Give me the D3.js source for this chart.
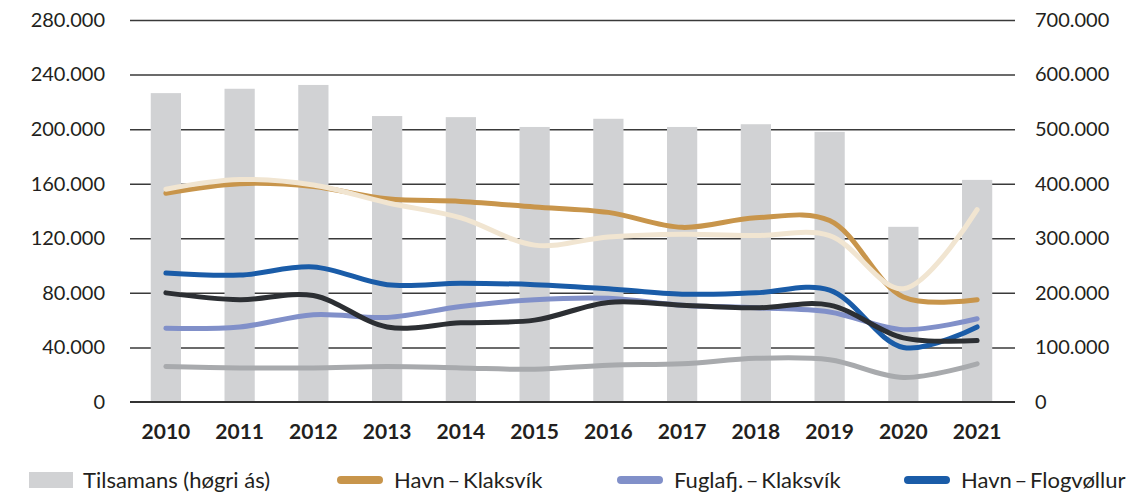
<!DOCTYPE html>
<html>
<head>
<meta charset="utf-8">
<script src="https://cdn.jsdelivr.net/npm/d3@7"></script>
<style>
  body { margin: 0; background: #fff; }
  svg text { font-family: Lato, "Open Sans", sans-serif; fill: #231f20; }
</style>
</head>
<body>
<div id="chart"></div>
<script>
var w = 1143, h = 494;

// data
var years = ["2010","2011","2012","2013","2014","2015","2016","2017","2018","2019","2020","2021"];
var tilsamans = [566000, 574000, 581000, 524000, 522000, 504000, 519000, 504000, 509000, 495000, 321000, 407000]; // right axis
var havnKlaksvik = [153000, 160000, 158000, 149000, 147000, 143000, 139000, 128000, 135000, 133000, 77000, 75000];
var fuglafjKlaksvik = [54000, 55000, 64000, 62000, 70000, 75000, 76000, 71000, 69000, 66000, 53000, 61000];
var havnFlogvollur = [94500, 93000, 99000, 86000, 87000, 86000, 83000, 79000, 80000, 82000, 40000, 55000];
// series without a visible legend entry (legend is cut off)
var seriesBeige = [156000, 163000, 159000, 146000, 135000, 115000, 121000, 123000, 122000, 122000, 83000, 141000];
var seriesBlack = [80000, 75000, 78000, 55000, 58000, 60000, 73000, 71000, 69000, 71000, 47000, 45000];
var seriesGray = [26000, 25000, 25000, 26000, 25000, 24000, 27000, 28000, 32000, 31000, 18000, 28000];
var leftTicks = [0, 40000, 80000, 120000, 160000, 200000, 240000, 280000];
var rightTicks = [0, 100000, 200000, 300000, 400000, 500000, 600000, 700000];

var lines = [
  {name: "Havn\u2009–\u2009Klaksvík", values: havnKlaksvik, color: "#c8954b", legend: true},
  {name: "Fuglafj.\u2009–\u2009Klaksvík", values: fuglafjKlaksvik, color: "#8190c9", legend: true},
  {name: "Havn\u2009–\u2009Flogvøllur", values: havnFlogvollur, color: "#1a5ca8", legend: true},
  {name: "beige", values: seriesBeige, color: "#f1e5d1", legend: false},
  {name: "black", values: seriesBlack, color: "#2c2f33", legend: false},
  {name: "gray", values: seriesGray, color: "#a8aaad", legend: false}
];

var svg = d3.select("#chart").append("svg")
    .attr("width", w)
    .attr("height", h);

var plotLeft = 130, plotRight = 1015, plotTop = 20, plotBottom = 402;

var x = d3.scaleBand().domain(years).range([129, 1014])
    .paddingInner(0.59).paddingOuter(0.295);
var yL = d3.scaleLinear().domain([0, 280000]).range([plotBottom, plotTop]);
var yR = d3.scaleLinear().domain([0, 700000]).range([plotBottom, plotTop]);

var fmt = d3.formatLocale({decimal: ",", thousands: ".", grouping: [3], currency: ["", ""]}).format(",");

// gridlines
svg.append("g")
    .attr("transform", "translate(" + plotLeft + ",0)")
    .call(d3.axisLeft(yL).tickValues(leftTicks.slice(1)).tickSize(-(plotRight - plotLeft)).tickFormat(""))
    .call(function(g) { g.select(".domain").remove(); })
    .selectAll("line").attr("stroke", "#3a3a3a").attr("stroke-width", 1.5);

// bars (right axis)
svg.selectAll(".bar")
  .data(years)
  .enter().append("rect")
    .attr("class", "bar")
    .attr("fill", "#d1d2d4")
    .attr("x", function(d) { return x(d); })
    .attr("y", function(d, i) { return yR(tilsamans[i]); })
    .attr("width", x.bandwidth())
    .attr("height", function(d, i) { return plotBottom - yR(tilsamans[i]); });

// baseline
svg.append("line")
    .attr("x1", plotLeft).attr("x2", plotRight)
    .attr("y1", yL(0)).attr("y2", yL(0))
    .attr("stroke", "#333").attr("stroke-width", 2);

// left axis labels
svg.append("g")
    .attr("transform", "translate(" + plotLeft + ",0)")
    .call(d3.axisLeft(yL).tickValues(leftTicks).tickSize(0).tickPadding(25).tickFormat(fmt))
    .call(function(g) { g.select(".domain").remove(); })
    .selectAll("text").style("font-size", "20px").attr("fill", "#231f20");

// right axis labels
svg.append("g")
    .attr("transform", "translate(" + plotRight + ",0)")
    .call(d3.axisRight(yR).tickValues(rightTicks).tickSize(0).tickPadding(20).tickFormat(fmt))
    .call(function(g) { g.select(".domain").remove(); })
    .selectAll("text").style("font-size", "20px").attr("fill", "#231f20");

// x axis labels
svg.append("g")
    .attr("transform", "translate(0," + plotBottom + ")")
    .call(d3.axisBottom(x).tickSize(0).tickPadding(22))
    .call(function(g) { g.select(".domain").remove(); })
    .selectAll("text").style("font-size", "21px").style("font-weight", "bold").attr("fill", "#231f20");

// lines
var line = d3.line()
    .x(function(d, i) { return x(years[i]) + x.bandwidth() / 2; })
    .y(function(d) { return yL(d); })
    .curve(d3.curveCatmullRom.alpha(0.5));

var drawOrder = [0, 3, 1, 2, 4, 5];
drawOrder.forEach(function(k) {
  svg.append("path")
      .datum(lines[k].values)
      .attr("fill", "none")
      .attr("stroke", lines[k].color)
      .attr("stroke-width", 5)
      .attr("stroke-linecap", "round")
      .attr("d", line);
});

// legend
var legendY = 480;
var legend = svg.append("g");
legend.append("rect")
    .attr("x", 29).attr("y", legendY - 8)
    .attr("width", 44).attr("height", 16)
    .attr("fill", "#d1d2d4");
legend.append("text")
    .attr("x", 83).attr("y", legendY).attr("dy", "0.35em")
    .style("font-size", "22px")
    .text("Tilsamans (høgri ás)");

var legendX = [337, 617, 904];
lines.filter(function(d) { return d.legend; }).forEach(function(d, i) {
  legend.append("line")
      .attr("x1", legendX[i] + 4).attr("x2", legendX[i] + 42)
      .attr("y1", legendY).attr("y2", legendY)
      .attr("stroke", d.color).attr("stroke-width", 8)
      .attr("stroke-linecap", "round");
  legend.append("text")
      .attr("x", legendX[i] + 57).attr("y", legendY).attr("dy", "0.35em")
      .style("font-size", "22px")
      .text(d.name);
});
</script>
</body>
</html>
